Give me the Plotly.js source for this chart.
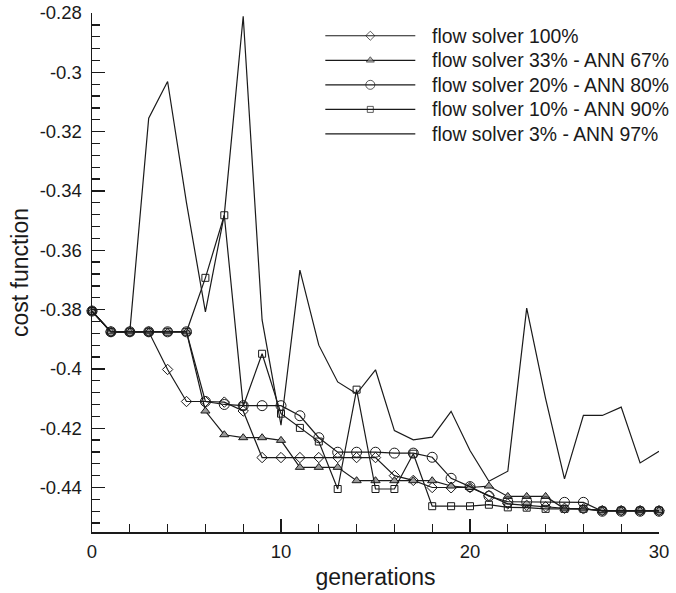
<!DOCTYPE html>
<html>
<head>
<meta charset="utf-8">
<script src="https://cdn.plot.ly/plotly-3.0.1.min.js"></script>
<style>html,body{margin:0;padding:0;background:#fff;}#chart{width:676px;height:593px;}</style>
</head>
<body>
<div id="chart"></div>
<script>
// ---- data ----
const generations = [0,1,2,3,4,5,6,7,8,9,10,11,12,13,14,15,16,17,18,19,20,21,22,23,24,25,26,27,28,29,30];
const fs100 = [-0.3805,-0.3875,-0.3875,-0.3875,-0.4002,-0.411,-0.411,-0.4112,-0.4142,-0.4299,-0.4299,-0.4299,-0.4299,-0.4299,-0.4299,-0.4299,-0.4360,-0.4376,-0.4400,-0.4401,-0.4400,-0.4427,-0.4455,-0.4460,-0.4465,-0.4470,-0.4472,-0.4478,-0.4478,-0.4478,-0.4478];
const fs33 = [-0.3805,-0.3875,-0.3875,-0.3875,-0.3875,-0.3875,-0.4142,-0.4222,-0.4232,-0.4232,-0.4241,-0.4332,-0.4332,-0.4332,-0.4377,-0.4377,-0.4377,-0.4377,-0.4377,-0.4395,-0.4400,-0.4395,-0.4430,-0.4430,-0.4430,-0.4472,-0.4472,-0.4478,-0.4478,-0.4478,-0.4478];
const fs20 = [-0.3805,-0.3875,-0.3875,-0.3875,-0.3875,-0.3875,-0.4110,-0.4120,-0.4124,-0.4124,-0.4124,-0.4158,-0.4232,-0.4281,-0.4281,-0.4281,-0.4284,-0.4284,-0.4298,-0.4369,-0.4397,-0.4429,-0.4448,-0.4448,-0.4448,-0.4450,-0.4450,-0.4480,-0.4480,-0.4480,-0.4480];
const fs10 = [-0.3805,-0.3875,-0.3875,-0.3875,-0.3875,-0.3875,-0.3693,-0.3482,-0.4126,-0.3949,-0.4151,-0.4199,-0.4245,-0.4405,-0.4070,-0.4405,-0.4405,-0.4286,-0.4463,-0.4463,-0.4463,-0.4458,-0.4467,-0.4468,-0.4472,-0.4472,-0.4472,-0.4478,-0.4478,-0.4478,-0.4478];
const fs3 = [-0.3805,-0.3875,-0.3875,-0.3155,-0.3031,-0.3440,-0.3808,-0.3480,-0.2811,-0.3835,-0.4190,-0.3667,-0.3920,-0.4044,-0.4084,-0.4003,-0.4208,-0.4239,-0.4230,-0.4143,-0.4275,-0.4379,-0.4345,-0.3795,-0.4100,-0.4371,-0.4157,-0.4157,-0.4129,-0.4317,-0.4278];
const seriesNames = ['flow solver 100%','flow solver 33% - ANN 67%','flow solver 20% - ANN 80%','flow solver 10% - ANN 90%','flow solver 3% - ANN 97%'];
const yTickVals = [-0.28,-0.30,-0.32,-0.34,-0.36,-0.38,-0.40,-0.42,-0.44];
const yTickText = ['-0.28','-0.3','-0.32','-0.34','-0.36','-0.38','-0.4','-0.42','-0.44'];
const xTickVals = [0,10,20,30];
const xTickText = ['0','10','20','30'];

// ---- styles ----
const INK = '#1a1a1a';
const seriesValues = [fs100, fs33, fs20, fs10, fs3];
const markerStyles = [
  {symbol:'diamond-open', size:8, color:INK, line:{width:1, color:INK}},
  {symbol:'triangle-up', size:8, color:'#9a9a9a', line:{width:1, color:INK}},
  {symbol:'circle-open', size:10, color:INK, line:{width:1, color:INK}},
  {symbol:'square-open', size:7, color:INK, line:{width:1, color:INK}},
  null
];

const traces = [];
const order = [4,0,1,2,3];
order.forEach(i => {
  const m = markerStyles[i];
  const t = {
    type:'scatter', x:generations, y:seriesValues[i], name:seriesNames[i],
    mode: m ? 'lines+markers' : 'lines',
    line:{color:INK, width:1.2},
    cliponaxis:false, showlegend:false
  };
  if (m) t.marker = m;
  traces.push(t);
});

// custom legend drawn on an invisible overlay axis (0..1)
const legX0 = 0.4115, legX1 = 0.5702, legTextX = 0.5984;
const legTop = 0.9562, legStep = 0.0473;
const annotations = [];
seriesNames.forEach((nm, i) => {
  const yy = legTop - i*legStep;
  const m = markerStyles[i];
  const t = {
    type:'scatter', xaxis:'x2', yaxis:'y2', showlegend:false, hoverinfo:'skip',
    x:[legX0, (legX0+legX1)/2, legX1], y:[yy,yy,yy],
    mode: m ? 'lines+markers' : 'lines',
    line:{color:INK, width:1.2},
    cliponaxis:false
  };
  if (m) t.marker = Object.assign({}, m, {size:[0, m.size-1, 0]});
  traces.push(t);
  annotations.push({xref:'paper', yref:'paper', x:legTextX, y:yy, xanchor:'left', yanchor:'middle',
    text:nm, showarrow:false, borderpad:0, font:{family:'Liberation Sans, Arial, sans-serif', size:19.4, color:INK}});
});

const layout = {
  width:676, height:593,
  margin:{l:92, r:17, t:13, b:61, pad:0},
  paper_bgcolor:'#fff', plot_bgcolor:'#fff',
  showlegend:false,
  font:{family:'Liberation Sans, Arial, sans-serif', color:INK},
  xaxis:{
    range:[0,30], tickmode:'array', tickvals:xTickVals, ticktext:xTickText,
    ticks:'inside', ticklen:13, tickwidth:1.3, tickcolor:INK,
    minor:{ticks:'inside', ticklen:8, tickwidth:1.3, tickcolor:INK, tick0:0, dtick:2},
    showline:true, linecolor:INK, linewidth:1.5, showgrid:false, zeroline:false,
    tickfont:{size:18.5, color:INK}, ticklabelstandoff:2,
    title:{text:'generations', font:{size:23, color:INK}, standoff:8}
  },
  yaxis:{
    range:[-0.455,-0.28], tickmode:'array', tickvals:yTickVals, ticktext:yTickText,
    ticks:'inside', ticklen:13, tickwidth:1.3, tickcolor:INK,
    minor:{ticks:'inside', ticklen:8, tickwidth:1.3, tickcolor:INK, tick0:-0.28, dtick:0.004},
    showline:true, linecolor:INK, linewidth:1.5, showgrid:false, zeroline:false,
    tickfont:{size:18.5, color:INK}, ticklabelstandoff:5,
    title:{text:'cost function', font:{size:23, color:INK}, standoff:4}
  },
  xaxis2:{overlaying:'x', range:[0,1], visible:false, fixedrange:true},
  yaxis2:{overlaying:'y', range:[0,1], visible:false, fixedrange:true},
  annotations:annotations
};

Plotly.newPlot('chart', traces, layout, {displayModeBar:false, staticPlot:true});
</script>
</body>
</html>
